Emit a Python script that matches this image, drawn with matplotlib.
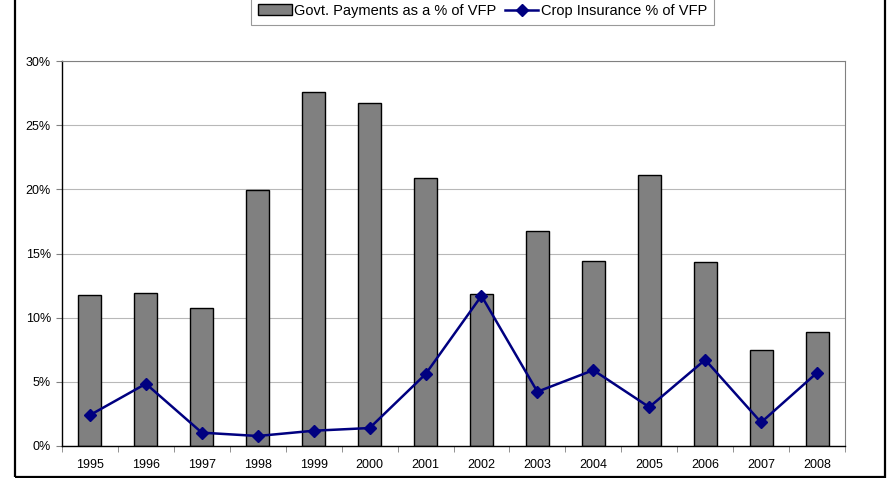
import numpy as np
import matplotlib.pyplot as plt
from matplotlib.patches import Rectangle
from matplotlib.ticker import FuncFormatter, FixedLocator

plt.rcParams['font.family'] = ['Liberation Sans', 'DejaVu Sans']

years = ['1995', '1996', '1997', '1998', '1999', '2000', '2001',
         '2002', '2003', '2004', '2005', '2006', '2007', '2008']
govt_pct = [11.73, 11.93, 10.79, 19.95, 27.6, 26.76, 20.9,
            11.85, 16.79, 14.42, 21.09, 14.34, 7.47, 8.9]
crop_pct = [2.41, 4.85, 1.04, 0.78, 1.19, 1.4, 5.6,
            11.7, 4.23, 5.91, 3.03, 6.72, 1.84, 5.71]

x = np.arange(len(years))

fig = plt.figure(figsize=(8.92, 4.78), dpi=100)
ax = fig.add_axes([62/892, 1 - 446/478, (845-62)/892, (446-61)/478])

bars = ax.bar(x, np.array(govt_pct) / 100, width=0.41, color='#808080',
              edgecolor='black', linewidth=1.0, zorder=2,
              label='Govt. Payments as a % of VFP')
line, = ax.plot(x, np.array(crop_pct) / 100, color='#000080', linewidth=1.8,
                marker='D', markersize=6, zorder=3,
                label='Crop Insurance % of VFP')

ax.set_xlim(-0.5, len(years) - 0.5)
ax.set_ylim(0, 0.30)
ax.set_yticks(np.arange(0, 0.31, 0.05))
ax.yaxis.set_major_formatter(FuncFormatter(lambda v, p: f'{v*100:.0f}%'))
ax.yaxis.grid(True, color='#b8b8b8', linewidth=0.8, zorder=0)
ax.set_axisbelow(True)

# category labels centered, ticks at boundaries
ax.set_xticks(x)
ax.set_xticklabels(years)
ax.tick_params(axis='x', which='major', length=0, pad=9, labelsize=9)
ax.xaxis.set_minor_locator(FixedLocator(np.arange(-0.5, len(years), 1.0)))
ax.tick_params(axis='x', which='minor', length=4, color='#808080', direction='out')
ax.tick_params(axis='y', length=4, color='#808080', labelsize=9, pad=4)

for s in ['top', 'right']:
    ax.spines[s].set_color('#808080')
    ax.spines[s].set_linewidth(0.8)
for s in ['left', 'bottom']:
    ax.spines[s].set_color('black')
    ax.spines[s].set_linewidth(1.0)

leg = fig.legend(handles=[bars, line], loc='lower center',
                 bbox_to_anchor=(482.5/892, 1 - 25/478), ncol=2,
                 frameon=True, fancybox=False, edgecolor='#808080',
                 fontsize=10.5, handlelength=2.3, handletextpad=0.15,
                 columnspacing=0.6, borderpad=0.5, borderaxespad=0)
leg.get_frame().set_linewidth(0.8)

# outer chart border (top edge cropped off)
fig.add_artist(Rectangle((15/892, 1/478), (885-15)/892, 1.2,
                         transform=fig.transFigure, fill=False,
                         edgecolor='black', linewidth=1.6, clip_on=False))

fig.savefig('out.png', dpi=100)
